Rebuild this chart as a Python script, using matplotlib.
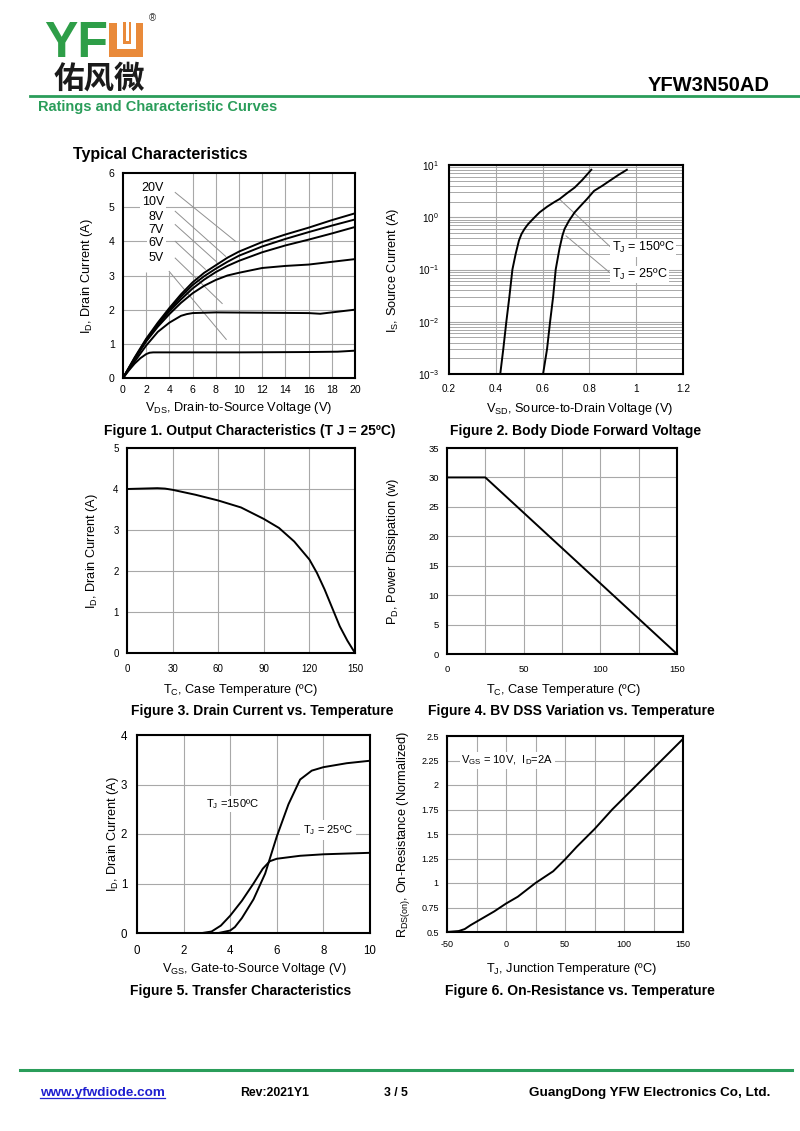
import matplotlib
matplotlib.use("Agg")
import matplotlib.pyplot as plt
from matplotlib.patches import Rectangle
from matplotlib.ticker import MultipleLocator, LogLocator, NullFormatter, FuncFormatter

plt.rcParams['font.family'] = ['Liberation Sans', 'DejaVu Sans']
plt.rcParams['mathtext.fontset'] = 'custom'
plt.rcParams['mathtext.rm'] = 'Liberation Sans'
plt.rcParams['mathtext.it'] = 'Liberation Sans:italic'
plt.rcParams['mathtext.bf'] = 'Liberation Sans:bold'
plt.rcParams['mathtext.default'] = 'regular'

# ---- data ----
# Figure 1: output characteristics
vds = [0, 1, 2, 3, 4, 5, 6, 7, 8, 9, 10, 12, 14, 16, 18, 20]
id_20v = [0, 0.60, 1.15, 1.62, 2.05, 2.45, 2.80, 3.08, 3.30, 3.52, 3.70, 3.98, 4.20, 4.40, 4.62, 4.82]
id_10v = [0, 0.58, 1.12, 1.58, 2.00, 2.38, 2.72, 2.98, 3.20, 3.40, 3.58, 3.85, 4.07, 4.27, 4.46, 4.64]
id_8v = [0, 0.56, 1.10, 1.55, 1.95, 2.30, 2.62, 2.88, 3.10, 3.28, 3.43, 3.68, 3.88, 4.05, 4.23, 4.42]
id_7v = [0, 0.55, 1.07, 1.50, 1.87, 2.20, 2.48, 2.70, 2.87, 3.00, 3.08, 3.22, 3.28, 3.32, 3.40, 3.48]
vds_6v = [0, 1, 2, 3, 4, 5, 5.5, 6, 8, 12, 16, 17, 18.5, 20]
id_6v = [0, 0.48, 0.95, 1.35, 1.62, 1.82, 1.87, 1.90, 1.92, 1.91, 1.90, 1.88, 1.94, 2.00]
vds_5v = [0, 0.5, 1, 1.5, 2, 2.3, 2.6, 5, 10, 16, 18.5, 19.5, 20]
id_5v = [0, 0.22, 0.42, 0.58, 0.70, 0.74, 0.75, 0.75, 0.75, 0.76, 0.77, 0.79, 0.80]
vgs_labels = ['20V', '10V', '8V', '7V', '6V', '5V']

# Figure 2: body diode forward voltage
vsd_150 = [0.419, 0.432, 0.445, 0.458, 0.471, 0.485, 0.499, 0.510, 0.523, 0.537, 0.552,
           0.568, 0.587, 0.620, 0.650, 0.673, 0.705, 0.737, 0.770, 0.808]
is_150 = [1e-3, 3e-3, 1e-2, 3e-2, 0.1, 0.2, 0.36, 0.48, 0.6, 0.73, 0.86,
          1.02, 1.24, 1.6, 1.95, 2.24, 2.9, 3.7, 5.2, 8.1]
vsd_25 = [0.602, 0.619, 0.632, 0.645, 0.656, 0.672, 0.685, 0.694, 0.713, 0.737,
          0.765, 0.790, 0.820, 0.855, 0.887, 0.925, 0.960]
is_25 = [1e-3, 3e-3, 1e-2, 3e-2, 0.1, 0.25, 0.45, 0.6, 0.86, 1.24,
         1.7, 2.24, 3.2, 4.0, 5.0, 6.5, 8.1]

# Figure 3: drain current vs case temperature
tc3 = [0, 20, 25, 30, 45, 60, 75, 90, 100, 110, 120, 125, 130, 135, 140, 145, 150]
id3 = [4.0, 4.02, 4.01, 3.98, 3.86, 3.72, 3.55, 3.27, 3.05, 2.72, 2.28, 1.95, 1.55, 1.10, 0.65, 0.30, 0.0]

# Figure 4: power dissipation vs case temperature
tc4 = [0, 25, 150]
pd4 = [30, 30, 0]

# Figure 5: transfer characteristics
vgs_a = [0, 2.8, 3.2, 3.6, 4.0, 4.5, 5.0, 5.4, 5.7, 6.0, 7.0, 8.0, 10.0]
id_a = [0, 0, 0.03, 0.15, 0.35, 0.65, 1.0, 1.3, 1.45, 1.50, 1.56, 1.59, 1.62]
vgs_b = [0, 3.5, 4.0, 4.2, 4.5, 5.0, 5.5, 6.0, 6.5, 7.0, 7.5, 8.0, 9.0, 10.0]
id_b = [0, 0, 0.05, 0.12, 0.30, 0.68, 1.20, 1.95, 2.60, 3.10, 3.28, 3.35, 3.43, 3.48]

# Figure 6: on-resistance vs junction temperature
tj6 = [-50, -40, -35, -30, -20, -10, 0, 10, 25, 40, 50, 60, 75, 90, 100, 125, 150]
rds6 = [0.50, 0.51, 0.53, 0.57, 0.64, 0.71, 0.79, 0.86, 1.00, 1.12, 1.24, 1.37, 1.55, 1.75, 1.87, 2.17, 2.47]

GREEN = '#2a9d5a'
GRID = '#a8a8a8'
LAB_FS = 9.2
CAP_FS = 10
ANN_FS = 8

fig = plt.figure(figsize=(8, 11.31), dpi=100)

# page overlay in pixel coordinates
page = fig.add_axes([0, 0, 1, 1])
page.set_xlim(0, 800)
page.set_ylim(1131, 0)
page.axis('off')


def rect(l, t, r, b):
    return [l / 800, 1 - b / 1131, (r - l) / 800, (b - t) / 1131]


def style(ax, fs, xpad=5, ypad=5):
    for s in ax.spines.values():
        s.set_linewidth(1.5)
        s.set_color('black')
    ax.tick_params(which='both', length=0, labelsize=fs)
    ax.tick_params(axis='x', pad=xpad)
    ax.tick_params(axis='y', pad=ypad)
    ax.set_axisbelow(True)


# ---- header ----
page.text(44, 57, 'YF', fontsize=36, fontweight='bold', color='#2e9e48', va='baseline')
page.add_patch(Rectangle((109, 23), 34, 34, color='#e98a3a', lw=0))
page.add_patch(Rectangle((117, 22), 19, 27, color='white', lw=0))
page.add_patch(Rectangle((123, 22), 8, 22, color='#e98a3a', lw=0))
page.add_patch(Rectangle((125.5, 22), 3, 19, color='white', lw=0))
page.text(152, 18, '®', fontsize=7, ha='center', va='center', color='#333333')
page.text(54, 88, '佑风微', fontsize=22, fontweight='bold', color='#1a1a1a', va='baseline',
          family=['Noto Sans CJK SC', 'DejaVu Sans'])
page.text(770, 91, 'YFW3N50AD', fontsize=14.5, fontweight='bold', ha='right', va='baseline')
page.plot([30, 800], [96, 96], color=GREEN, lw=2)
page.text(38, 111, 'Ratings and Characteristic Curves', fontsize=10.5, fontweight='bold',
          color=GREEN, va='baseline')
page.text(73, 159, 'Typical Characteristics', fontsize=11.5, fontweight='bold', va='baseline')

# ---- footer ----
page.plot([20, 792], [1070, 1070], color=GREEN, lw=2.2)
page.text(40, 1096, 'www.yfwdiode.com', fontsize=9.7, fontweight='bold', color='#1f1fd0',
          va='baseline')
page.plot([40, 165], [1098, 1098], color='#1f1fd0', lw=0.9)
page.text(240, 1096, 'Rev:2021Y1', fontsize=8.8, fontweight='bold', va='baseline')
page.text(396, 1096, '3 / 5', fontsize=8.8, fontweight='bold', va='baseline', ha='center')
page.text(770, 1096, 'GuangDong YFW Electronics Co, Ltd.', fontsize=9.7, fontweight='bold',
          va='baseline', ha='right')

# ---- Figure 1 ----
ax1 = fig.add_axes(rect(123, 173, 355, 378))
style(ax1, 7.6, xpad=5, ypad=6)
ax1.set_xlim(0, 20)
ax1.set_ylim(0, 6)
ax1.xaxis.set_major_locator(MultipleLocator(2))
ax1.yaxis.set_major_locator(MultipleLocator(1))
for yv in range(1, 6):
    ax1.axhline(yv, color=GRID, lw=0.8, zorder=0)
for xv in range(6, 20, 2):
    ax1.axvline(xv, color=GRID, lw=0.8, zorder=0)
ax1.vlines([2, 4], 0, 3.1, color=GRID, lw=0.8, zorder=0)
for ys in [id_20v, id_10v, id_8v, id_7v]:
    ax1.plot(vds, ys, color='black', lw=1.4, zorder=3)
ax1.plot(vds_6v, id_6v, color='black', lw=1.4, zorder=3)
ax1.plot(vds_5v, id_5v, color='black', lw=1.4, zorder=3)
lab_y = [5.56, 5.14, 4.71, 4.32, 3.95, 3.5]
leaders = [((4.5, 5.43), (9.7, 4.0)), ((4.5, 4.88), (8.85, 3.56)), ((4.5, 4.49), (8.1, 3.39)),
           ((4.5, 4.0), (7.1, 3.18)), ((4.5, 3.51), (8.55, 2.18)), ((3.98, 3.12), (8.9, 1.13))]
for lab, yv, (p0, p1) in zip(vgs_labels, lab_y, leaders):
    ax1.text(3.55, yv, lab, fontsize=9, ha='right', va='center', zorder=2,
             bbox=dict(facecolor='white', edgecolor='none', pad=1.0))
    ax1.plot([p0[0], p1[0]], [p0[1], p1[1]], color='#909090', lw=0.7, zorder=2)
page.text(239, 408, 'V$_{DS}$, Drain-to-Source Voltage (V)', fontsize=LAB_FS, ha='center', va='center')
page.text(87, 276, 'I$_D$, Drain Current (A)', fontsize=LAB_FS, ha='center', va='center', rotation=90)
page.text(250, 431, 'Figure 1. Output Characteristics (T J = 25ºC)', fontsize=CAP_FS,
          fontweight='bold', ha='center', va='center')

# ---- Figure 2 ----
ax2 = fig.add_axes(rect(449, 165, 683, 374))
style(ax2, 7.2, xpad=7, ypad=7)
ax2.set_yscale('log')
ax2.set_xlim(0.2, 1.2)
ax2.set_ylim(1e-3, 1e1)
ax2.xaxis.set_major_locator(MultipleLocator(0.2))
ax2.yaxis.set_major_locator(LogLocator(base=10, numticks=10))
ax2.yaxis.set_minor_locator(LogLocator(base=10, subs=range(2, 10), numticks=20))
ax2.yaxis.set_minor_formatter(NullFormatter())
ax2.xaxis.set_major_formatter(FuncFormatter(lambda v, p: f'{v:g}'))
ax2.grid(True, which='major', color=GRID, lw=0.8)
ax2.grid(True, which='minor', axis='y', color=GRID, lw=0.7)
ax2.plot(vsd_150, is_150, color='black', lw=1.4, zorder=3)
ax2.plot(vsd_25, is_25, color='black', lw=1.4, zorder=3)
ax2.plot([0.673, 0.89], [2.2, 0.27], color='#909090', lw=0.7, zorder=2)
ax2.plot([0.70, 0.89], [0.44, 0.085], color='#909090', lw=0.7, zorder=2)
ax2.text(0.895, 0.26, 'T$_J$ = 150ºC', fontsize=9, ha='left', va='center', zorder=2,
         bbox=dict(facecolor='white', edgecolor='none', pad=1.0))
ax2.text(0.895, 0.08, 'T$_J$ = 25ºC', fontsize=9, ha='left', va='center', zorder=2,
         bbox=dict(facecolor='white', edgecolor='none', pad=1.0))
page.text(580, 409, 'V$_{SD}$, Source-to-Drain Voltage (V)', fontsize=LAB_FS, ha='center', va='center')
page.text(393, 270, 'I$_S$, Source Current (A)', fontsize=LAB_FS, ha='center', va='center', rotation=90)
page.text(576, 431, 'Figure 2. Body Diode Forward Voltage', fontsize=CAP_FS,
          fontweight='bold', ha='center', va='center')

# ---- Figure 3 ----
ax3 = fig.add_axes(rect(127, 448, 355, 653))
style(ax3, 7, xpad=8, ypad=6)
ax3.set_xlim(0, 150)
ax3.set_ylim(0, 5)
ax3.xaxis.set_major_locator(MultipleLocator(30))
ax3.yaxis.set_major_locator(MultipleLocator(1))
ax3.grid(True, color=GRID, lw=0.8)
ax3.plot(tc3, id3, color='black', lw=1.4)
page.text(241, 690, 'T$_C$, Case Temperature (ºC)', fontsize=LAB_FS, ha='center', va='center')
page.text(92, 551, 'I$_D$, Drain Current (A)', fontsize=LAB_FS, ha='center', va='center', rotation=90)
page.text(262, 711, 'Figure 3. Drain Current vs. Temperature', fontsize=CAP_FS,
          fontweight='bold', ha='center', va='center')

# ---- Figure 4 ----
ax4 = fig.add_axes(rect(447, 448, 677, 654))
style(ax4, 6.8, xpad=8, ypad=6)
ax4.set_xlim(0, 150)
ax4.set_ylim(0, 35)
ax4.xaxis.set_major_locator(MultipleLocator(50))
ax4.xaxis.set_minor_locator(MultipleLocator(25))
ax4.yaxis.set_major_locator(MultipleLocator(5))
ax4.grid(True, which='both', color=GRID, lw=0.8)
ax4.plot(tc4, pd4, color='black', lw=1.4)
page.text(564, 690, 'T$_C$, Case Temperature (ºC)', fontsize=LAB_FS, ha='center', va='center')
page.text(393, 551, 'P$_D$, Power Dissipation (w)', fontsize=LAB_FS, ha='center', va='center', rotation=90)
page.text(571, 711, 'Figure 4. BV DSS Variation vs. Temperature', fontsize=CAP_FS,
          fontweight='bold', ha='center', va='center')

# ---- Figure 5 ----
ax5 = fig.add_axes(rect(137, 735, 370, 933))
style(ax5, 8.3, xpad=9, ypad=7)
ax5.set_xlim(0, 10)
ax5.set_ylim(0, 4)
ax5.xaxis.set_major_locator(MultipleLocator(2))
ax5.yaxis.set_major_locator(MultipleLocator(1))
ax5.grid(True, color=GRID, lw=0.8)
ax5.plot(vgs_a, id_a, color='black', lw=1.4, zorder=3)
ax5.plot(vgs_b, id_b, color='black', lw=1.4, zorder=3)
ax5.text(4.1, 2.61, 'T$_J$ =150ºC', fontsize=ANN_FS, ha='center', va='center', zorder=2,
         bbox=dict(facecolor='white', edgecolor='none', pad=1.0))
ax5.text(8.2, 2.08, 'T$_J$ = 25ºC', fontsize=ANN_FS, ha='center', va='center', zorder=2,
         bbox=dict(facecolor='white', edgecolor='none', pad=2.0))
page.text(254, 969, 'V$_{GS}$, Gate-to-Source Voltage (V)', fontsize=LAB_FS, ha='center', va='center')
page.text(113, 834, 'I$_D$, Drain Current (A)', fontsize=LAB_FS, ha='center', va='center', rotation=90)
page.text(241, 991, 'Figure 5. Transfer Characteristics', fontsize=CAP_FS,
          fontweight='bold', ha='center', va='center')

# ---- Figure 6 ----
ax6 = fig.add_axes(rect(447, 736, 683, 932))
style(ax6, 6.5, xpad=6, ypad=6)
ax6.set_xlim(-50, 150)
ax6.set_ylim(0.5, 2.5)
ax6.xaxis.set_major_locator(MultipleLocator(50))
ax6.xaxis.set_minor_locator(MultipleLocator(25))
ax6.yaxis.set_major_locator(MultipleLocator(0.25))
ax6.yaxis.set_major_formatter(FuncFormatter(lambda v, p: f'{v:g}'))
ax6.xaxis.set_major_formatter(FuncFormatter(lambda v, p: f'{v:g}'.replace('\u2212', '-')))
ax6.grid(True, which='both', color=GRID, lw=0.8)
ax6.plot(tj6, rds6, color='black', lw=1.4)
ax6.text(-38, 2.25, 'V$_{GS}$ = 10V,  I$_D$=2A', fontsize=ANN_FS, ha='left', va='center',
         bbox=dict(facecolor='white', edgecolor='none', pad=1.0))
page.text(572, 969, 'T$_J$, Junction Temperature (ºC)', fontsize=LAB_FS, ha='center', va='center')
page.text(403, 834, 'R$_{DS(on)}$, On-Resistance (Normalized)', fontsize=LAB_FS, ha='center',
          va='center', rotation=90)
page.text(580, 991, 'Figure 6. On-Resistance vs. Temperature', fontsize=CAP_FS,
          fontweight='bold', ha='center', va='center')

fig.savefig('out.png', dpi=100)
